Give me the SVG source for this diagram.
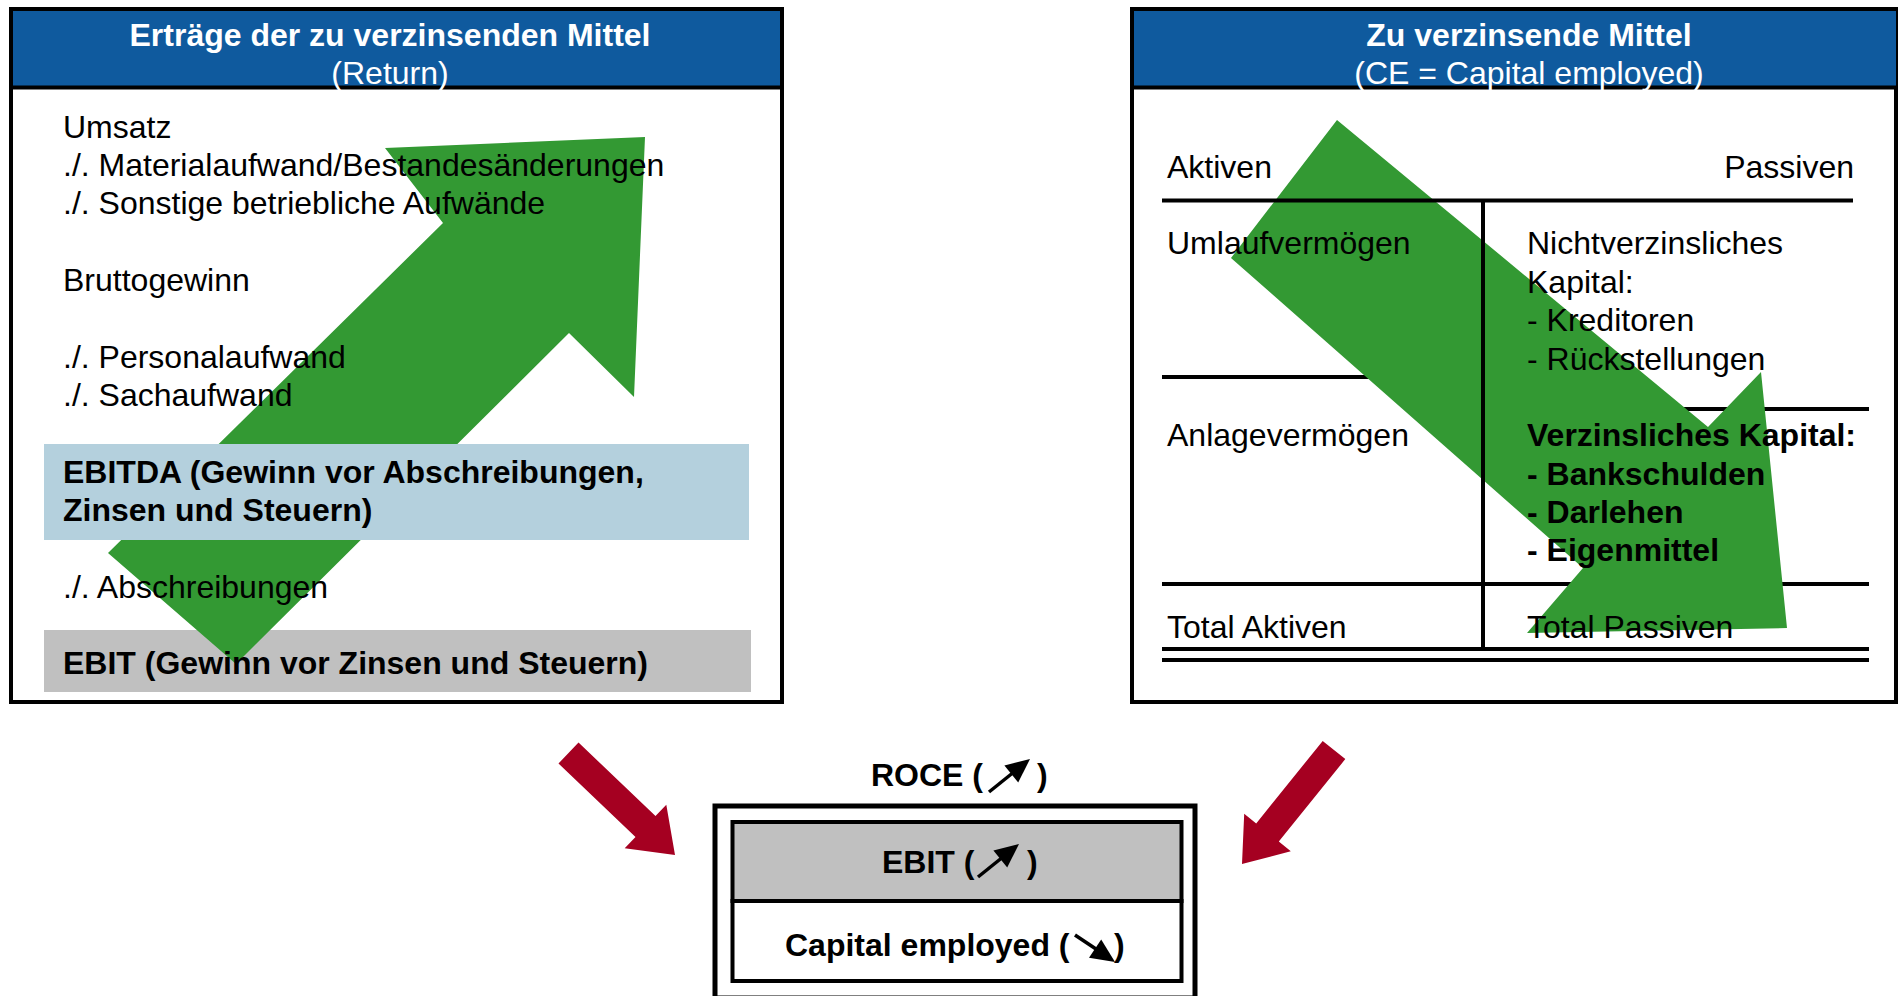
<svg xmlns="http://www.w3.org/2000/svg" width="1898" height="996" viewBox="0 0 1898 996">
<style>
text{font-family:"Liberation Sans",Arial,sans-serif;font-size:32px;fill:#000}
.b{font-weight:bold}
.hd{fill:#fff;text-anchor:middle}
.frame{fill:#fff;stroke:#000;stroke-width:4}
.hdr{fill:#0F5A9E}
.ln{stroke:#000;stroke-width:4;fill:none}
.green{fill:#339933}
.red{fill:#A50021}
.sa{stroke:#000;stroke-width:3.5;fill:none}
</style>
<g id="return-panel">
<rect class="frame" x="11" y="9" width="771" height="693"/>
<rect class="hdr" x="13" y="11" width="767" height="76"/>
<line class="ln" x1="11" y1="87.5" x2="782" y2="87.5" stroke-width="3.5"/>
<text class="b hd" x="390" y="46">Erträge der zu verzinsenden Mittel</text>
<text class="hd" x="390" y="84">(Return)</text>
<rect x="44" y="630" width="707" height="62" fill="#C0C0C0"/>
<polygon class="green" points="108,553 443,223 385,148 645,137 634,397 569,333 236,664"/>
<rect x="44" y="444" width="705" height="96" fill="#B4D0DD"/>
<text x="63" y="138">Umsatz</text>
<text x="63" y="176">./. Materialaufwand/Bestandesänderungen</text>
<text x="63" y="214">./. Sonstige betriebliche Aufwände</text>
<text x="63" y="291">Bruttogewinn</text>
<text x="63" y="368">./. Personalaufwand</text>
<text x="63" y="406">./. Sachaufwand</text>
<text class="b" x="63" y="483">EBITDA (Gewinn vor Abschreibungen,</text>
<text class="b" x="63" y="521">Zinsen und Steuern)</text>
<text x="63" y="598">./. Abschreibungen</text>
<text class="b" x="63" y="674">EBIT (Gewinn vor Zinsen und Steuern)</text>
</g>
<g id="capital-panel">
<rect class="frame" x="1132" y="9" width="764" height="693"/>
<rect class="hdr" x="1134" y="11" width="762" height="76"/>
<line class="ln" x1="1132" y1="87.5" x2="1898" y2="87.5" stroke-width="3.5"/>
<text class="b hd" x="1529" y="46">Zu verzinsende Mittel</text>
<text class="hd" x="1529" y="84">(CE = Capital employed)</text>
<line class="ln" x1="1162" y1="377" x2="1483" y2="377"/>
<line class="ln" x1="1483" y1="409" x2="1869" y2="409"/>
<line class="ln" x1="1162" y1="584" x2="1869" y2="584"/>
<polygon class="green" points="1337,120 1231,258 1583,568 1527,633 1787,628 1761,372 1708,427"/>
<line class="ln" x1="1162" y1="200.5" x2="1853" y2="200.5"/>
<line class="ln" x1="1483" y1="200" x2="1483" y2="647" stroke-width="3.5"/>
<line class="ln" x1="1162" y1="649" x2="1869" y2="649" stroke-width="3.5"/>
<line class="ln" x1="1162" y1="660" x2="1869" y2="660" stroke-width="3.5"/>
<text x="1167" y="178">Aktiven</text>
<text x="1854" y="178" text-anchor="end">Passiven</text>
<text x="1167" y="254">Umlaufvermögen</text>
<text x="1527" y="254">Nichtverzinsliches</text>
<text x="1527" y="292.5">Kapital:</text>
<text x="1527" y="331">- Kreditoren</text>
<text x="1527" y="369.5">- Rückstellungen</text>
<text x="1167" y="446">Anlagevermögen</text>
<text class="b" x="1527" y="446">Verzinsliches Kapital:</text>
<text class="b" x="1527" y="484.5">- Bankschulden</text>
<text class="b" x="1527" y="523">- Darlehen</text>
<text class="b" x="1527" y="561">- Eigenmittel</text>
<text x="1167" y="638">Total Aktiven</text>
<text x="1527" y="638">Total Passiven</text>
</g>
<g id="roce-box">
<text class="b" x="871" y="786">ROCE (</text>
<text class="b" x="1037" y="786">)</text>
<line class="sa" x1="989" y1="792" x2="1012" y2="773.5"/>
<polygon points="1030,759 1018.2,782.6 1004.4,765.4"/>
<rect x="715" y="806" width="480" height="192" fill="#fff" stroke="#000" stroke-width="5"/>
<rect x="732.5" y="822" width="449" height="79" fill="#C0C0C0" stroke="#000" stroke-width="4"/>
<rect x="732.5" y="901" width="449" height="80" fill="#fff" stroke="#000" stroke-width="4"/>
<text class="b" x="882" y="873">EBIT (</text>
<text class="b" x="1027" y="873">)</text>
<line class="sa" x1="978" y1="877" x2="1001" y2="858.5"/>
<polygon points="1019,844 1007.2,867.6 993.4,850.4"/>
<text class="b" x="785" y="956">Capital employed (</text>
<text class="b" x="1114" y="956">)</text>
<line class="sa" x1="1075" y1="935" x2="1096" y2="949"/>
<polygon points="1115,962 1089,957.7 1101.2,939.5"/>
</g>
<g id="connectors">
<polygon class="red" points="578.5,742.5 655.5,816 666.3,804.8 675,855 624.7,848.2 635.5,837 558.5,763.5"/>
<polygon class="red" points="1322.7,740.9 1256.2,823.4 1244.2,813.7 1242,864 1290.8,851.3 1278.8,841.6 1345.3,759.1"/>
</g>
</svg>
